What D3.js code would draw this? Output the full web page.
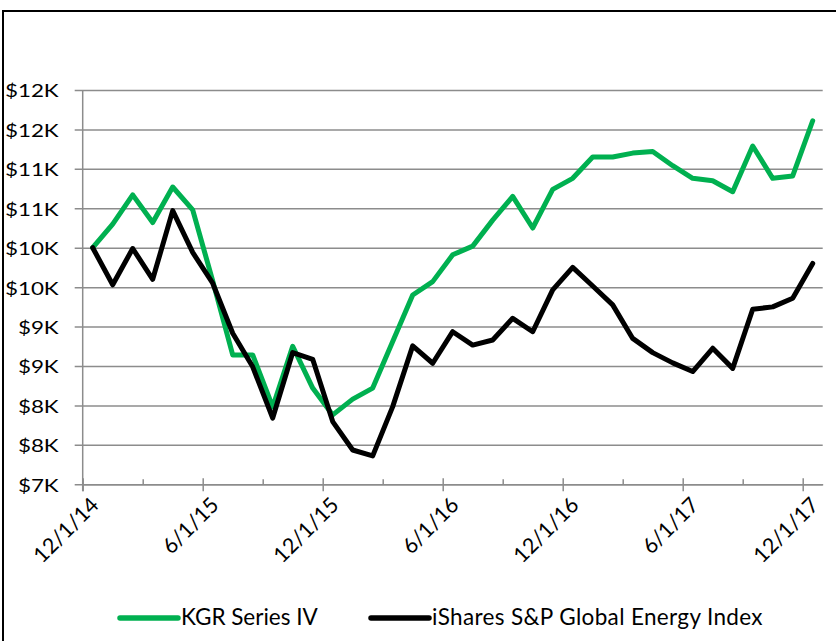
<!DOCTYPE html>
<html>
<head>
<meta charset="utf-8">
<script src="https://cdn.jsdelivr.net/npm/d3@7"></script>
<style>
  html, body { margin: 0; padding: 0; background: #fff; }
  svg { display: block; }
  text { font-family: Lato, "Open Sans", sans-serif; fill: #000; }
</style>
</head>
<body>
<svg id="chart" width="836" height="641"></svg>
<script>
const dates = ["12/1/14","1/1/15","2/1/15","3/1/15","4/1/15","5/1/15","6/1/15","7/1/15","8/1/15","9/1/15","10/1/15","11/1/15",
  "12/1/15","1/1/16","2/1/16","3/1/16","4/1/16","5/1/16","6/1/16","7/1/16","8/1/16","9/1/16","10/1/16","11/1/16",
  "12/1/16","1/1/17","2/1/17","3/1/17","4/1/17","5/1/17","6/1/17","7/1/17","8/1/17","9/1/17","10/1/17","11/1/17","12/1/17"];
const kgr = [10000,10300,10670,10320,10770,10480,9580,8640,8640,7980,8750,8220,
  7880,8080,8220,8810,9400,9570,9910,10020,10350,10650,10250,10740,
  10880,11150,11150,11200,11220,11040,10880,10850,10710,11290,10880,10910,11610];
const ishares = [10000,9530,9990,9600,10470,9940,9550,8915,8490,7840,8670,8585,
  7795,7435,7360,7985,8755,8535,8935,8765,8830,9105,8935,9465,
  9750,9515,9275,8850,8670,8540,8430,8725,8470,9220,9250,9360,9800];
const seriesNames = ["KGR Series IV", "iShares S&P Global Energy Index"];
const seriesColors = ["#00B050", "#000000"];
const yTickValues = [7000,7500,8000,8500,9000,9500,10000,10500,11000,11500,12000];
const yTickLabels = ["$7K","$8K","$8K","$9K","$9K","$10K","$10K","$11K","$11K","$12K","$12K"];
const xMajorIdx = [0,6,12,18,24,30,36];
const xMinorIdx = [3,9,15,21,27,33];

(function () {
const svg = d3.select("#chart");
const pL = 82.7, pR = 822.7, pT = 90, pB = 484.3;
const gridColor = "#8c8c8c";

// chart border
svg.append("rect").attr("x", 3).attr("y", 11).attr("width", 900).attr("height", 700)
  .attr("fill", "none").attr("stroke", "#000").attr("stroke-width", 2);

const x = d3.scaleLinear().domain([0, dates.length]).range([pL, pR]);
const y = d3.scaleLinear().domain([7000, 12000]).range([pB, pT]);

// y gridlines + axis
const yAxis = d3.axisLeft(y).tickValues(yTickValues).tickSize(-(pR - pL)).tickSizeOuter(0)
  .tickFormat((d, i) => yTickLabels[i]);
const gy = svg.append("g").attr("transform", `translate(${pL},0)`).call(yAxis);
gy.select(".domain").attr("stroke", gridColor).attr("stroke-width", 1.5)
  .attr("d", `M0,${pT}V${pB + 7}`);
gy.selectAll(".tick line").attr("stroke", gridColor).attr("stroke-width", 1.5)
  .attr("x1", -8);
gy.selectAll(".tick text").attr("x", 0).attr("dy", null).attr("dominant-baseline", "central")
  .attr("font-size", 17.5).attr("text-anchor", "end")
  .attr("transform", "translate(-24,0) scale(1.28,1)");

// x axis
const xAxis = d3.axisBottom(x).tickValues(xMajorIdx).tickSize(7).tickSizeOuter(0)
  .tickFormat(i => dates[i]);
const gx = svg.append("g").attr("transform", `translate(0,${pB})`).call(xAxis);
gx.select(".domain").attr("stroke", gridColor).attr("stroke-width", 1.5);
gx.selectAll(".tick line").attr("stroke", gridColor).attr("stroke-width", 1.5).attr("y1", -6);
gx.selectAll(".tick text").attr("font-size", 21.5).attr("text-anchor", "end")
  .attr("dy", null).attr("y", 0)
  .attr("transform", "translate(17,22) rotate(-45)");
const xMinor = d3.axisBottom(x).tickValues(xMinorIdx).tickSize(0).tickFormat("");
const gm = svg.append("g").attr("transform", `translate(0,${pB})`).call(xMinor);
gm.select(".domain").remove();
gm.selectAll(".tick line").attr("stroke", gridColor).attr("stroke-width", 1.5).attr("y1", -5).attr("y2", 0);

// lines
const line = d3.line().x((d, i) => x(i + 0.5)).y(d => y(d));
[kgr, ishares].forEach((s, k) => {
  svg.append("path").datum(s).attr("d", line).attr("fill", "none")
    .attr("stroke", seriesColors[k]).attr("stroke-width", 5)
    .attr("stroke-linejoin", "round").attr("stroke-linecap", "round");
});

// legend
const legendX = [120, 371];
const lg = svg.append("g");
seriesNames.forEach((name, k) => {
  lg.append("line").attr("x1", legendX[k]).attr("x2", legendX[k] + 58)
    .attr("y1", 618).attr("y2", 618).attr("stroke", seriesColors[k])
    .attr("stroke-width", 5.5).attr("stroke-linecap", "round");
  lg.append("text").attr("x", legendX[k] + 61).attr("y", 624.5)
    .attr("font-size", 22.5).attr("letter-spacing", k === 1 ? 0.35 : 0).text(name);
});
})();
</script>
</body>
</html>
